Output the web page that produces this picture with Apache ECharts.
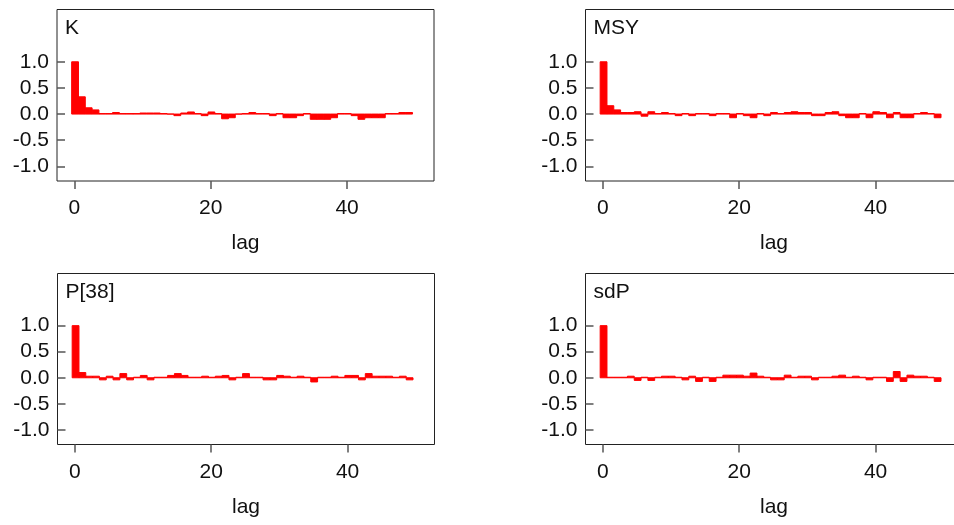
<!DOCTYPE html>
<html>
<head>
<meta charset="utf-8">
<title>Autocorrelation</title>
<script src="https://cdn.jsdelivr.net/npm/echarts@6/dist/echarts.min.js"></script>
<style>
  html, body { margin: 0; padding: 0; background: #fff; overflow: hidden; }
  #main { width: 972px; height: 525px; }
</style>
</head>
<body>
<div id="main"></div>
<script>
// autocorrelation by lag (lag 0..49)
var panelNames = ['K', 'MSY', 'P[38]', 'sdP'];
var kAcf = [1.0, 0.33, 0.12, 0.08, 0.01, 0.01, 0.03, 0.01, 0.01, 0.01,
            0.02, 0.02, 0.02, 0.01, 0.0, -0.03, 0.02, 0.04, 0.01, -0.03,
            0.04, 0.01, -0.09, -0.07, 0.0, 0.01, 0.03, 0.01, 0.01, -0.03,
            0.01, -0.07, -0.07, -0.03, 0.01, -0.1, -0.1, -0.1, -0.07, 0.01,
            0.01, -0.03, -0.1, -0.07, -0.07, -0.07, 0.01, 0.01, 0.03, 0.03];
var msyAcf = [1.0, 0.16, 0.08, 0.03, 0.03, 0.045, -0.04, 0.045, 0.01, 0.03,
              0.01, -0.03, 0.01, -0.03, 0.01, 0.01, -0.03, 0.01, 0.01, -0.07,
              0.01, -0.03, -0.07, 0.01, -0.03, 0.03, 0.01, 0.03, 0.045, 0.03,
              0.03, -0.03, -0.03, 0.03, 0.045, -0.03, -0.07, -0.07, 0.01, -0.07,
              0.045, 0.03, -0.07, 0.03, -0.07, -0.07, 0.01, 0.03, 0.01, -0.07];
var p38Acf = [1.0, 0.1, 0.03, 0.03, -0.04, 0.03, -0.04, 0.08, -0.04, 0.01,
              0.045, -0.04, 0.01, 0.01, 0.045, 0.08, 0.045, 0.01, 0.01, 0.03,
              0.01, 0.03, 0.045, -0.04, 0.01, 0.08, 0.01, 0.01, -0.04, -0.04,
              0.045, 0.03, 0.01, 0.03, 0.01, -0.08, 0.01, 0.01, 0.03, 0.01,
              0.045, 0.045, -0.04, 0.08, 0.03, 0.03, 0.03, 0.01, 0.03, -0.04];
var sdpAcf = [1.0, 0.01, 0.01, 0.01, 0.03, -0.05, 0.01, -0.05, 0.01, 0.03,
              0.03, 0.01, -0.04, 0.03, -0.07, 0.01, -0.07, 0.01, 0.05, 0.05,
              0.05, 0.03, 0.09, 0.03, 0.01, -0.04, -0.04, 0.05, 0.01, 0.03,
              0.03, -0.04, 0.01, 0.01, 0.03, 0.05, 0.01, 0.03, 0.01, -0.04,
              0.01, 0.01, -0.07, 0.12, -0.07, 0.05, 0.03, 0.03, 0.01, -0.07];
var yTicks = [-1.0, -0.5, 0.0, 0.5, 1.0];
var xTicks = [0, 20, 40];

var allAcf = [kAcf, msyAcf, p38Acf, sdpAcf];
var FONT = 'Liberation Sans';

// panel boxes (px); the right column runs past the 954px window edge
var boxes = [
    { left: 57, top: 9.5, width: 377, height: 171.5 },
    { left: 585.5, top: 9.5, width: 377, height: 171.5 },
    { left: 57.5, top: 273.5, width: 377, height: 171 },
    { left: 585.5, top: 273.5, width: 377, height: 171 }
];

function renderBar(params, api) {
    var lag = api.value(0);
    var v = api.value(1);
    var a = api.coord([lag - 0.4, 0]);
    var b = api.coord([lag + 0.6, v]);
    return {
        type: 'rect',
        shape: {
            x: a[0],
            y: Math.min(a[1], b[1]),
            width: b[0] - a[0],
            height: Math.abs(b[1] - a[1])
        },
        style: { fill: '#ff0000', stroke: '#ff0000', lineWidth: 1 }
    };
}

var grids = [], xAxes = [], yAxes = [], series = [], titles = [];

for (var i = 0; i < 4; i++) {
    var bx = boxes[i];
    grids.push({
        left: bx.left, top: bx.top, width: bx.width, height: bx.height,
        show: true, borderColor: '#222', borderWidth: 1, backgroundColor: '#fff'
    });
    xAxes.push({
        type: 'value', gridIndex: i, min: -2.55, max: 52.75,
        name: 'lag', nameLocation: 'middle', nameGap: 52,
        nameTextStyle: { fontFamily: FONT, fontSize: 21, color: '#111' },
        axisLine: { show: false, onZero: false },
        axisTick: { show: true, customValues: xTicks, length: 8, lineStyle: { color: '#555', width: 1.5 } },
        axisLabel: { customValues: xTicks, margin: 17, fontFamily: FONT, fontSize: 21, color: '#111' },
        splitLine: { show: false }
    });
    yAxes.push({
        type: 'value', gridIndex: i, min: -1.28, max: 2.0,
        axisLine: { show: false, onZero: false },
        axisTick: { show: true, inside: true, customValues: yTicks, length: 8, lineStyle: { color: '#555', width: 1.5 } },
        axisLabel: {
            customValues: yTicks, margin: 8, fontFamily: FONT, fontSize: 21, color: '#111',
            formatter: function (v) { return v.toFixed(1); }
        },
        splitLine: { show: false }
    });
    var pts = [];
    for (var k = 0; k < allAcf[i].length; k++) {
        pts.push([k, allAcf[i][k]]);
    }
    series.push({
        type: 'custom', xAxisIndex: i, yAxisIndex: i,
        renderItem: renderBar, data: pts, encode: { x: 0, y: 1 }, clip: true
    });
    titles.push({
        text: panelNames[i], left: bx.left + 8, top: bx.top + 8, padding: 0,
        textStyle: { fontFamily: FONT, fontSize: 21, fontWeight: 'normal', color: '#111' }
    });
}

var myChart = echarts.init(document.getElementById('main'), null, { renderer: 'canvas' });
myChart.setOption({
    animation: false,
    backgroundColor: '#fff',
    title: titles,
    grid: grids,
    xAxis: xAxes,
    yAxis: yAxes,
    series: series
});
</script>
</body>
</html>
